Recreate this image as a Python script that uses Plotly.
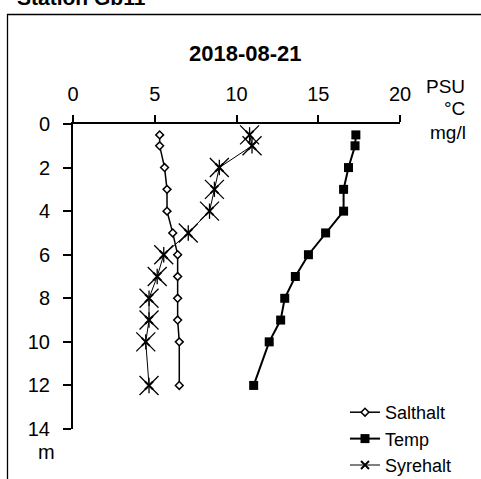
import plotly.graph_objects as go

depth = [0.5, 1, 2, 3, 4, 5, 6, 7, 8, 9, 10, 12]
salthalt = [5.3, 5.3, 5.6, 5.75, 5.75, 6.1, 6.4, 6.4, 6.4, 6.4, 6.5, 6.5]
temp = [17.3, 17.25, 16.85, 16.55, 16.55, 15.45, 14.4, 13.6, 12.95, 12.7, 12.0, 11.05]
syrehalt = [10.8, 10.95, 8.95, 8.65, 8.35, 7.05, 5.55, 5.15, 4.65, 4.65, 4.45, 4.65]

x_ticks = [0, 5, 10, 15, 20]
y_ticks = [0, 2, 4, 6, 8, 10, 12, 14]
units = ["PSU", "°C", "mg/l"]

FONT = "Arial, Liberation Sans, sans-serif"
W, H = 481, 479
L, R, T, B = 73, 81, 124, 50
PW, PH = W - L - R, H - T - B


def px(x):
    return (x - L) / PW


def py(y):
    return (H - B - y) / PH


fig = go.Figure()
fig.add_trace(go.Scatter(
    x=salthalt, y=depth, name="Salthalt", mode="lines+markers",
    line=dict(color="black", width=1.5),
    marker=dict(symbol="diamond", size=6, color="white", line=dict(color="black", width=1.5)),
))
fig.add_trace(go.Scatter(
    x=temp, y=depth, name="Temp", mode="lines+markers",
    line=dict(color="black", width=2),
    marker=dict(symbol="square", size=9, color="black"),
))
# Syrehalt: legend entry with a small marker, overlaid by the large asterisk markers
fig.add_trace(go.Scatter(
    x=syrehalt, y=depth, name="Syrehalt", mode="lines+markers",
    line=dict(color="black", width=1),
    marker=dict(symbol="x-thin-open", size=8, color="black", line=dict(color="black", width=2)),
))
fig.add_trace(go.Scatter(
    x=syrehalt, y=depth, name="Syrehalt", mode="markers", showlegend=False,
    marker=dict(symbol="x-thin-open", size=19, color="black", line=dict(color="black", width=1.3)),
))
fig.add_trace(go.Scatter(
    x=syrehalt, y=depth, name="Syrehalt", mode="markers", showlegend=False,
    marker=dict(symbol="line-ns-open", size=11, color="black", line=dict(color="black", width=1.3)),
))

fig.update_xaxes(
    side="top", range=[0, 20], tickvals=x_ticks, ticktext=[str(v) for v in x_ticks],
    ticks="outside", ticklen=7, tickwidth=1.5, tickcolor="black",
    showline=True, linewidth=2, linecolor="black", showgrid=False, zeroline=False,
    tickfont=dict(family=FONT, size=20, color="black"), ticklabelstandoff=6,
)
fig.update_yaxes(
    range=[14, 0], tickvals=y_ticks, ticktext=[str(v) for v in y_ticks],
    ticks="outside", ticklen=8, tickwidth=1.5, tickcolor="black",
    showline=True, linewidth=2, linecolor="black", showgrid=False, zeroline=False,
    tickfont=dict(family=FONT, size=20, color="black"), ticklabelstandoff=9,
)

annotations = [
    dict(text="<b>Station Gb11</b>", x=px(15), y=py(-3), xanchor="left", yanchor="middle",
         font=dict(size=21)),
    dict(text="<b>2018-08-21</b>", x=px(245), y=py(53), xanchor="center", yanchor="middle",
         font=dict(size=22)),
    dict(text=units[0], x=px(467), y=py(86), xanchor="right", yanchor="middle", font=dict(size=19)),
    dict(text=units[1], x=px(467), y=py(108), xanchor="right", yanchor="middle", font=dict(size=19)),
    dict(text=units[2], x=px(468), y=py(132), xanchor="right", yanchor="middle", font=dict(size=19)),
    dict(text="m", x=px(46), y=py(452), xanchor="center", yanchor="middle", font=dict(size=20)),
]
for a in annotations:
    a.update(xref="paper", yref="paper", showarrow=False)
    a["font"].update(family=FONT, color="black")

fig.update_layout(
    width=W, height=H,
    margin=dict(l=L, r=R, t=T, b=B, pad=0, autoexpand=False),
    paper_bgcolor="white", plot_bgcolor="white",
    showlegend=True,
    legend=dict(x=px(345), y=py(394), xanchor="left", yanchor="top",
                font=dict(family=FONT, size=18, color="black"),
                bgcolor="rgba(0,0,0,0)", tracegroupgap=0),
    annotations=annotations,
    shapes=[dict(type="rect", xref="paper", yref="paper",
                 x0=px(7.5), x1=px(520), y0=py(520), y1=py(14.5),
                 line=dict(color="black", width=1.3), fillcolor="rgba(0,0,0,0)", layer="below")],
)

fig.write_html(
    "out.html",
    config={"displayModeBar": False},
    post_script="document.body.style.margin='0';document.body.style.overflow='hidden';",
)
